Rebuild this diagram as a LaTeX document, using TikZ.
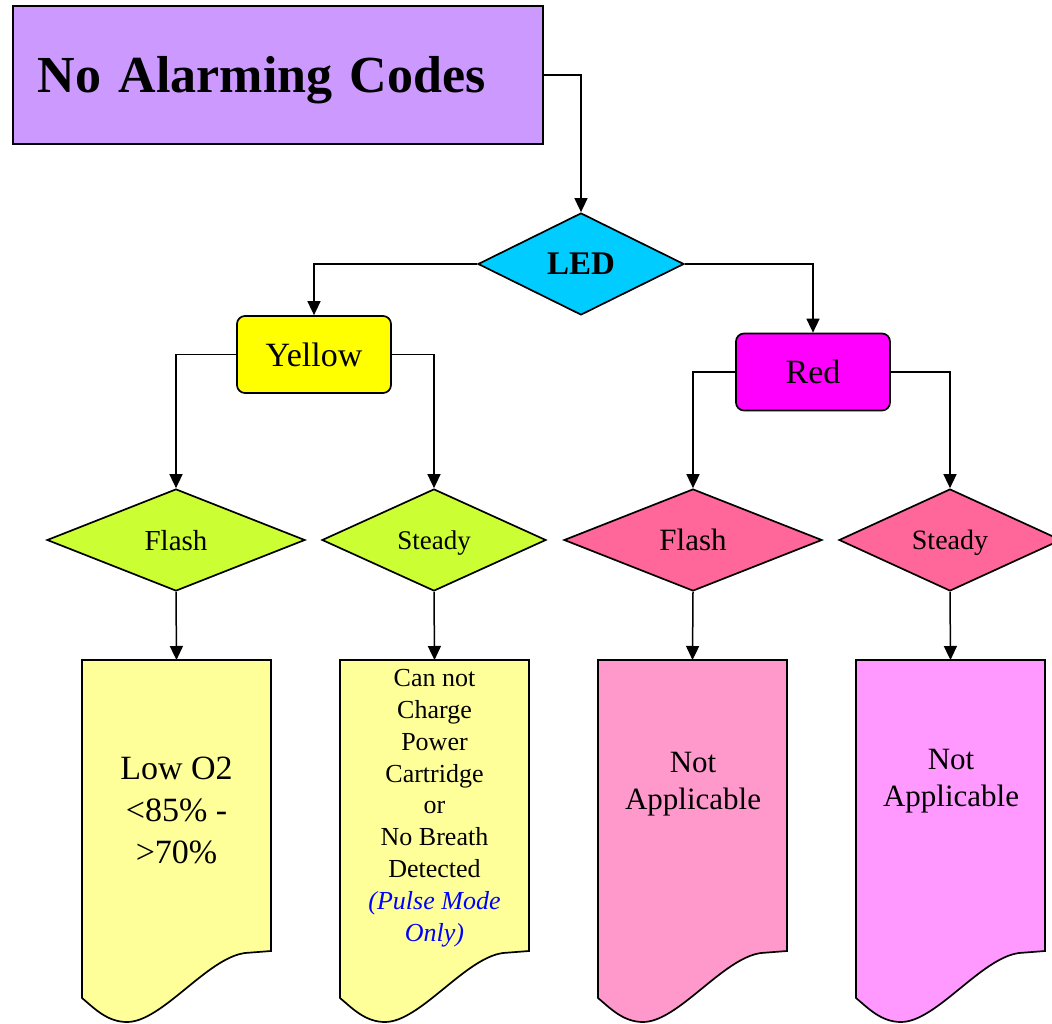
\documentclass[tikz,border=0pt]{standalone}
\usepackage{fontspec}
\setmainfont{Liberation Serif}
\usetikzlibrary{shapes.geometric,arrows.meta}
\definecolor{TitleLilac}{HTML}{CC99FF}
\definecolor{LedCyan}{HTML}{00CCFF}
\definecolor{LampYellow}{HTML}{FFFF00}
\definecolor{LampRed}{HTML}{FF00FF}
\definecolor{LimeDiamond}{HTML}{CCFF33}
\definecolor{RoseDiamond}{HTML}{FF6699}
\definecolor{PaleYellow}{HTML}{FFFF99}
\definecolor{PalePink}{HTML}{FF99CC}
\definecolor{PaleMagenta}{HTML}{FF99FF}
\newcommand\fsz[2]{\fontsize{#1}{#2}\selectfont}

\begin{document}
\begin{tikzpicture}[x=1pt,y=-1pt,
    box/.style={draw,line width=1.7pt,inner sep=0pt},
    lamp/.style={box,rounded corners=8pt,minimum width=154pt,minimum height=77pt,font=\fsz{34}{40}},
    decide/.style={box,diamond,shape aspect=2,minimum height=102pt,text depth=0pt},
    link/.style={line width=1.5pt,-{Triangle[length=14pt,width=13pt]}}]
    \useasboundingbox (0,0) rectangle (1052,1024);
    \node[box,fill=TitleLilac,anchor=north west,minimum width=530pt,minimum height=138pt,text width=480pt,
      inner xsep=25pt,align=left,text depth=0pt,font=\bfseries\fsz{52}{60}] (codes) at (12,5) {No Alarming Codes};
    \node[decide,fill=LedCyan,minimum width=206pt,font=\bfseries\fsz{33}{40}] (led) at (581,264) {LED};
    \node[lamp,fill=LampYellow] (yellow) at (314,354.5) {Yellow};
    \node[lamp,fill=LampRed] (red) at (813,372) {Red};
    \node[decide,fill=LimeDiamond,minimum width=258pt,font=\fsz{29}{35}] (yflash) at (176,540) {Flash};
    \node[decide,fill=LimeDiamond,minimum width=224pt,font=\fsz{27}{32}] (ysteady) at (434,540) {Steady};
    \node[decide,fill=RoseDiamond,minimum width=258pt,font=\fsz{31}{37}] (rflash) at (693,540) {Flash};
    \node[decide,fill=RoseDiamond,minimum width=222pt,font=\fsz{28}{34}] (rsteady) at (950,540) {Steady};
    % result sheets with a torn bottom edge
    \foreach \x/\c/\n in {82/PaleYellow/ylow,340/PaleYellow/ycharge,598/PalePink/rflashna,856/PaleMagenta/rsteadyna} {
      \filldraw[fill=\c,line width=1.7pt] (\x,660) -- ({\x+189},660) -- ({\x+189},951) -- ({\x+163},953)
        .. controls ({\x+125},958) and ({\x+80},1022) .. ({\x+45},1022)
        .. controls ({\x+25},1022) and ({\x+12},1008) .. (\x,998) -- cycle;
      \coordinate (\n) at ({\x+94.5},660);
    }
    \node[font=\fsz{34}{42},align=center] (lowtxt) at (176.5,810) {Low O2\\<85\% -\\>70\%};
    \node[font=\fsz{26}{31.8},align=center] (chargetxt) at (434.5,808) {Can not\\Charge\\Power\\Cartridge\\or\\No Breath\\Detected\\
      \textcolor{blue}{\textit{(Pulse Mode}}\\\textcolor{blue}{\textit{Only)}}};
    \node[font=\fsz{31}{37},align=center] (natxt) at (693,784) {Not\\Applicable};
    \node[font=\fsz{31}{37},align=center] (natxtb) at (951,781) {Not\\Applicable};
    \draw[link] (codes.east) -| (led.north);
    \draw[link] (led.west) -| (yellow.north);
    \draw[link] (led.east) -| (red.north);
    \draw[link] (yellow.west) -| (yflash.north);
    \draw[link] (yellow.east) -| (ysteady.north);
    \draw[link] (red.west) -| (rflash.north);
    \draw[link] (red.east) -| (rsteady.north);
    \foreach \a/\b in {yflash/ylow,ysteady/ycharge,rflash/rflashna,rsteady/rsteadyna}
      \draw[link] (\a.south) -- (\b);
\end{tikzpicture}
\end{document}
